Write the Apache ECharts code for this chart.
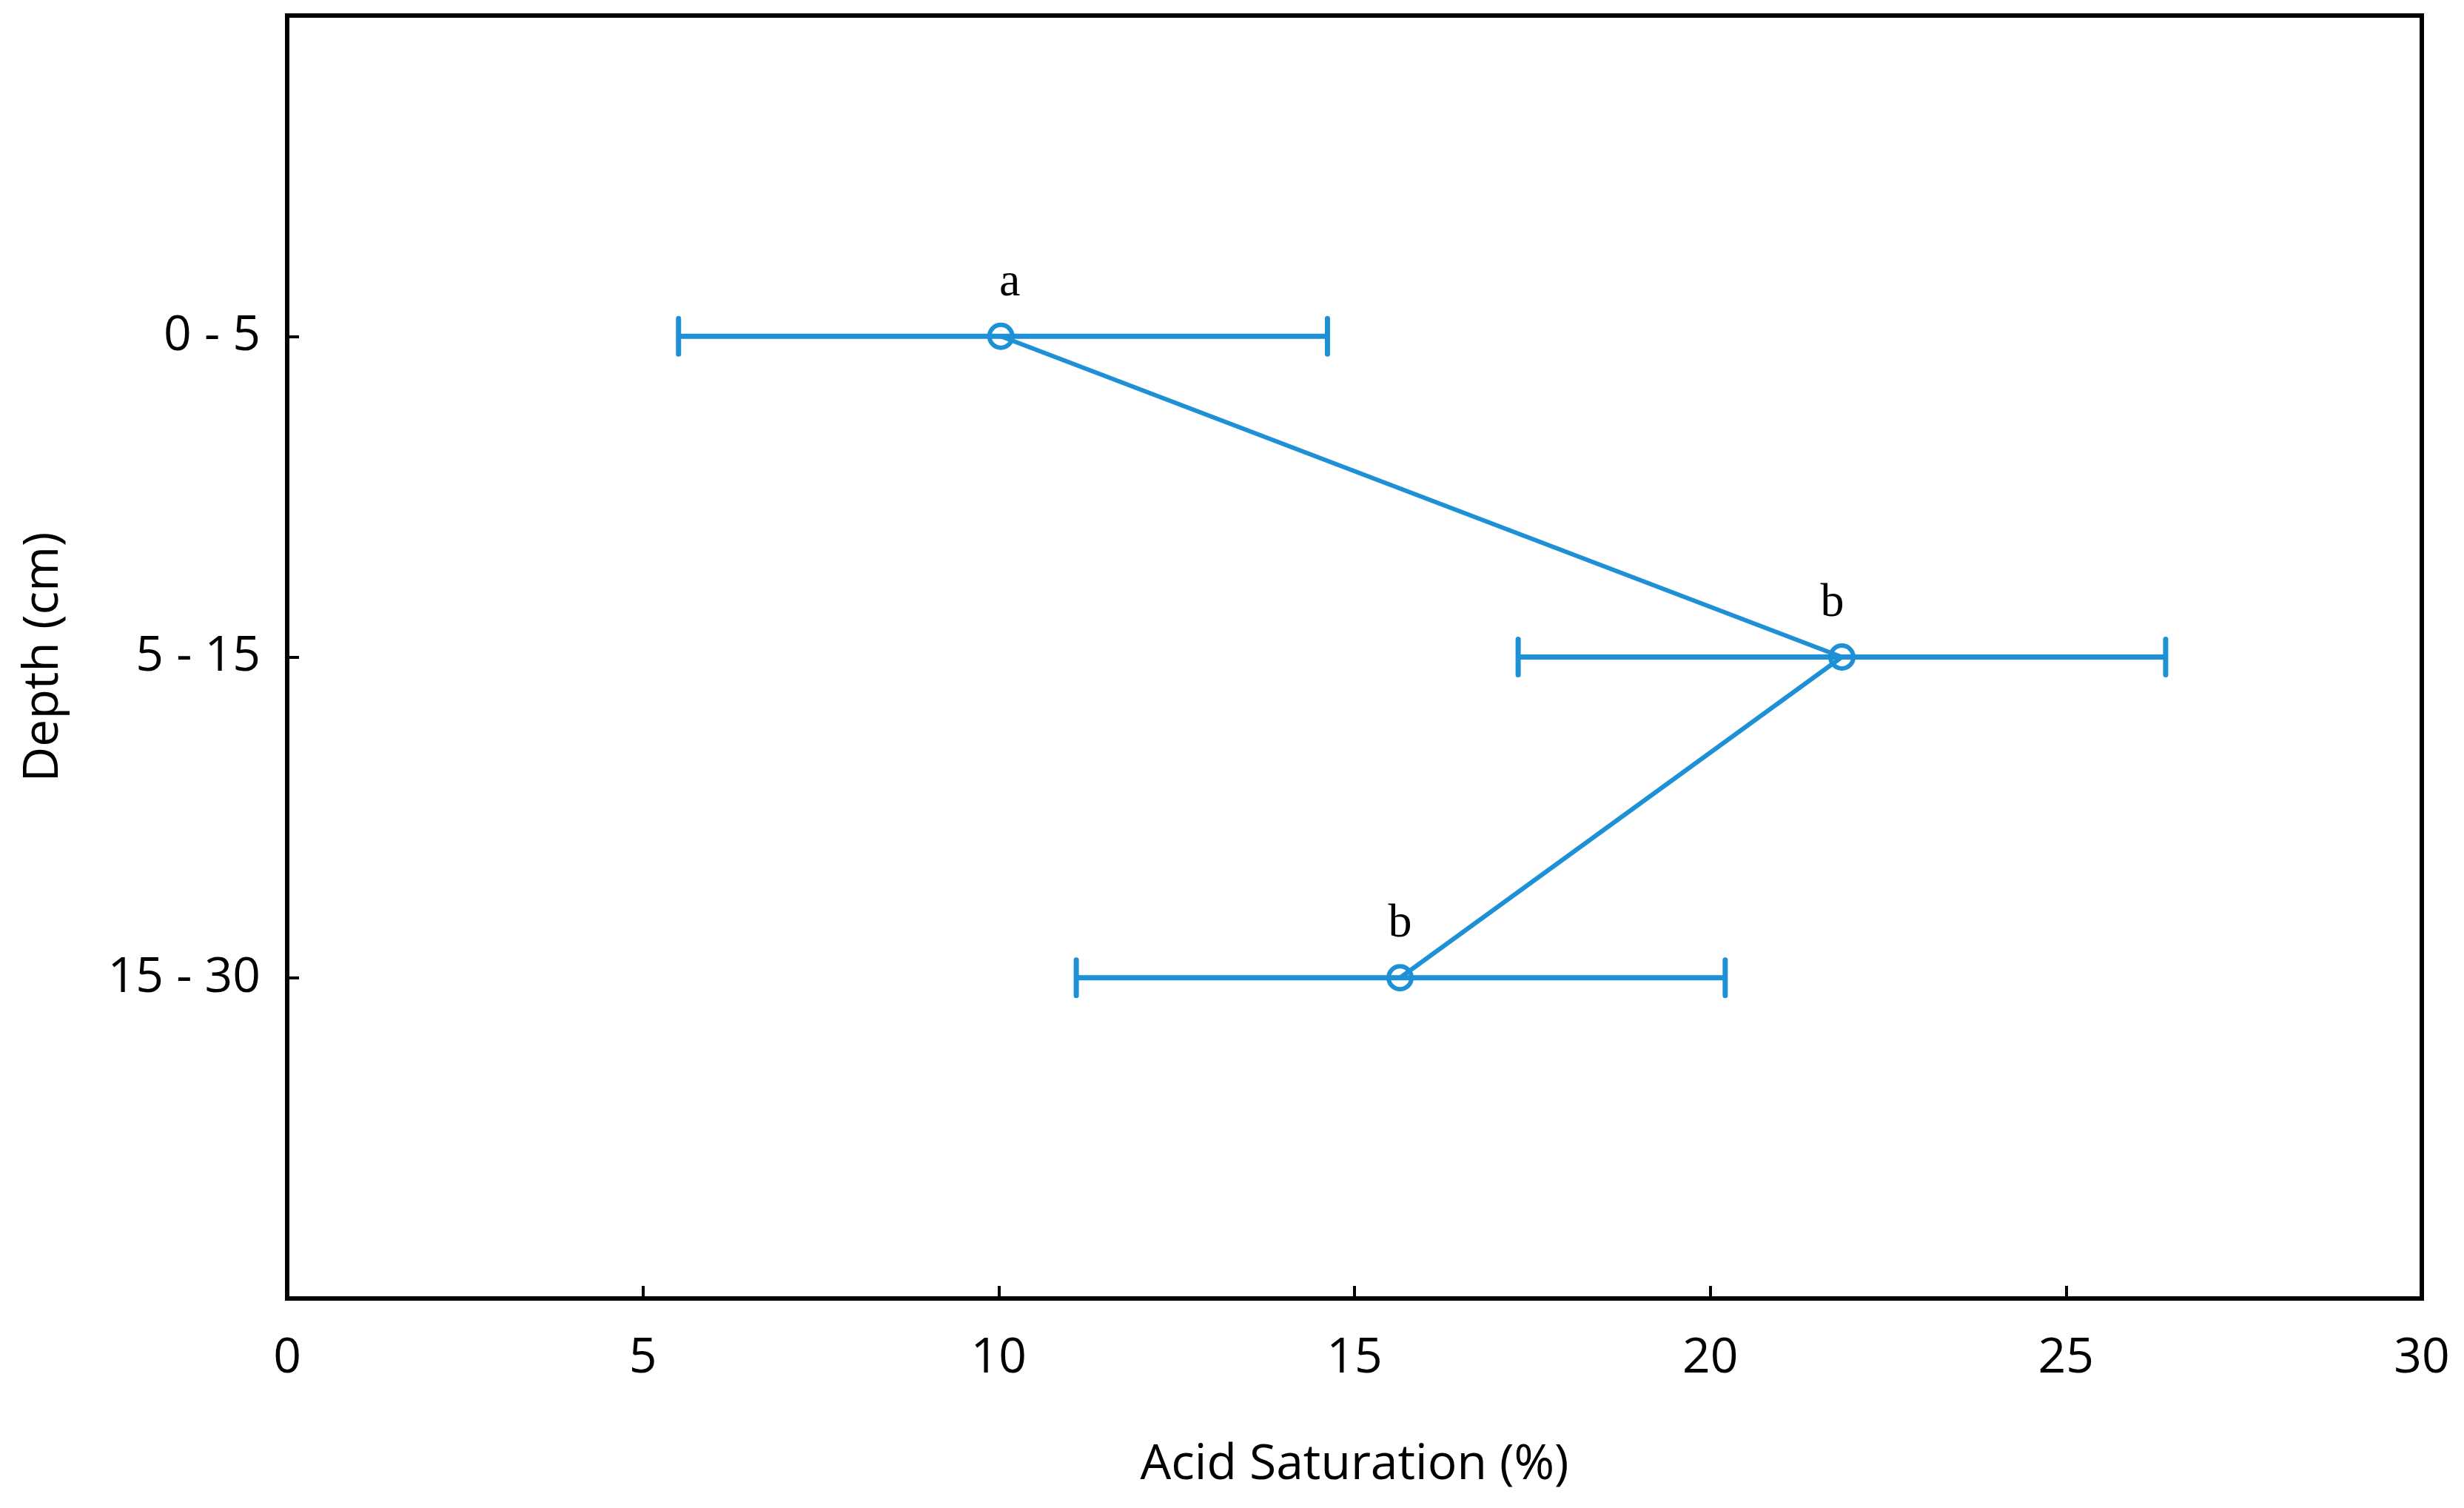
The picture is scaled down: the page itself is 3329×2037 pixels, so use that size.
<!DOCTYPE html>
<html>
<head>
<meta charset="utf-8">
<script src="https://cdn.jsdelivr.net/npm/echarts@6/dist/echarts.min.js"></script>
<style>
html,body{margin:0;padding:0;background:#fff;}
#chart{width:3329px;height:2037px;}
</style>
</head>
<body>
<div id="chart"></div>
<script>
// ---- data ----
const categories = ['0 - 5', '5 - 15', '15 - 30'];
const means = [10.03, 21.85, 15.64];
const lower = [5.50, 17.30, 11.09];
const upper = [14.62, 26.40, 20.21];
const letters = ['a', 'b', 'b'];
const xMin = 0, xMax = 30, xStep = 5;

// ---- styles ----
const BLUE = '#1E90D6';
const FONT = 'Open Sans';
const letterOffsets = [[12, 0], [-13, 0], [0, 0]];

const lineData = means.map((m, i) => ({
  value: [m, i + 1],
  label: { formatter: letters[i], offset: letterOffsets[i] }
}));
const errData = means.map((m, i) => [m, i + 1, lower[i], upper[i]]);

const chart = echarts.init(document.getElementById('chart'), null, { renderer: 'canvas' });
chart.setOption({
  animation: false,
  backgroundColor: '#fff',
  grid: {
    left: 388, right: 57, top: 21, bottom: 283,
    show: true, borderColor: '#000', borderWidth: 6, backgroundColor: 'transparent'
  },
  xAxis: {
    type: 'value', min: xMin, max: xMax, interval: xStep,
    name: 'Acid Saturation (%)', nameLocation: 'middle', nameGap: 192,
    nameTextStyle: { fontFamily: FONT, fontSize: 66, color: '#000' },
    axisLine: { show: true, onZero: false, lineStyle: { color: '#000', width: 6 } },
    axisTick: { show: true, inside: true, length: 17, lineStyle: { color: '#000', width: 4 } },
    axisLabel: { fontFamily: FONT, fontSize: 66, color: '#000', margin: 48 },
    splitLine: { show: false }
  },
  yAxis: {
    type: 'value', min: 0, max: 4, interval: 1, inverse: true,
    name: 'Depth (cm)', nameLocation: 'middle', nameGap: 296, nameRotate: 90,
    nameTextStyle: { fontFamily: FONT, fontSize: 66, color: '#000' },
    axisLine: { show: true, onZero: false, lineStyle: { color: '#000', width: 6 } },
    axisTick: { show: true, inside: true, length: 16, lineStyle: { color: '#000', width: 4 } },
    axisLabel: {
      fontFamily: FONT, fontSize: 66, color: '#000', margin: 36,
      formatter: v => (v >= 1 && v <= categories.length && Number.isInteger(v)) ? categories[v - 1] : ''
    },
    splitLine: { show: false }
  },
  series: [
    {
      type: 'custom',
      z: 2,
      data: errData,
      encode: { x: [0, 2, 3], y: 1 },
      renderItem: function (params, api) {
        const y = api.value(1);
        const p1 = api.coord([api.value(2), y]);
        const p2 = api.coord([api.value(3), y]);
        const h = 24;
        const style = { stroke: BLUE, lineWidth: 7, lineCap: 'round' };
        return {
          type: 'group',
          children: [
            { type: 'line', shape: { x1: p1[0], y1: p1[1], x2: p2[0], y2: p2[1] }, style: Object.assign({}, style, { lineCap: 'butt' }) },
            { type: 'line', shape: { x1: p1[0], y1: p1[1] - h, x2: p1[0], y2: p1[1] + h }, style: style },
            { type: 'line', shape: { x1: p2[0], y1: p2[1] - h, x2: p2[0], y2: p2[1] + h }, style: style }
          ]
        };
      }
    },
    {
      type: 'line',
      z: 3,
      data: lineData,
      symbol: 'circle',
      symbolSize: 31,
      lineStyle: { color: BLUE, width: 6 },
      itemStyle: { color: 'rgba(0,0,0,0)', borderColor: BLUE, borderWidth: 6 },
      label: {
        show: true, position: 'top', distance: 22,
        fontFamily: 'Liberation Serif', fontSize: 64, color: '#000'
      }
    }
  ]
});
</script>
</body>
</html>
